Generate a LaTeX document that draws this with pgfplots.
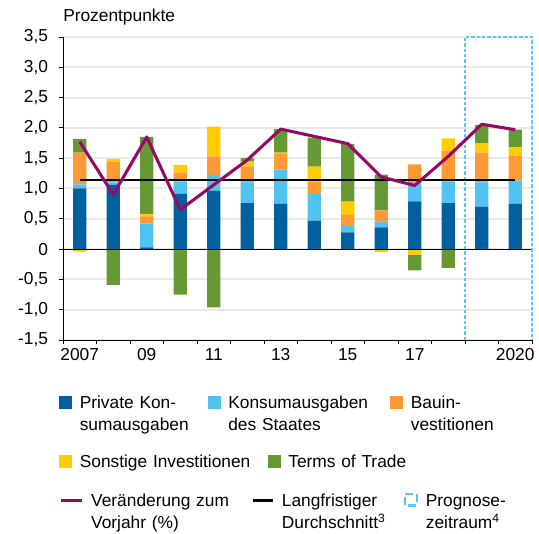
\documentclass[border=0pt]{standalone}
\usepackage{fontspec}
\setmainfont{Liberation Sans}
\usepackage{pgfplots}
\usepackage{pgfplotstable}
\pgfplotsset{compat=1.18}
\definecolor{cBlue}{RGB}{0,96,160}
\definecolor{cLight}{RGB}{80,195,240}
\definecolor{cOrange}{RGB}{255,153,51}
\definecolor{cYellow}{RGB}{255,204,0}
\definecolor{cGreen}{RGB}{102,153,51}
\definecolor{cPurple}{RGB}{150,10,100}
\definecolor{cGrid}{RGB}{234,234,234}
\definecolor{cBox}{RGB}{90,200,240}

\pgfplotstableread{
x blue light orange yellow green
0 1.00 0.07 0.52 0.00 0.23
1 1.06 0.04 0.345 0.045 0.00
2 0.03 0.39 0.12 0.04 1.27
3 0.91 0.205 0.145 0.13 0.00
4 0.96 0.265 0.305 0.49 0.00
5 0.76 0.34 0.26 0.085 0.055
6 0.75 0.56 0.27 0.01 0.39
7 0.47 0.44 0.205 0.245 0.48
8 0.275 0.11 0.18 0.22 0.95
9 0.357 0.10 0.18 0.00 0.59
10 0.786 0.30 0.31 0.00 0.00
11 0.76 0.355 0.51 0.20 0.00
12 0.70 0.40 0.49 0.16 0.30
13 0.75 0.38 0.41 0.14 0.29
}\tabpos

\pgfplotstableread{
x yellow green
0 -0.04 0
1 0 -0.59
2 0 0
3 0 -0.75
4 0 -0.96
5 0 0
6 0 0
7 0 0
8 0 0
9 -0.05 0
10 -0.093 -0.257
11 0 -0.31
12 0 0
13 0 0
}\tabneg

\pgfplotstableread{
x y
0 1.77
1 0.90
2 1.85
3 0.65
4 1.06
5 1.47
6 1.98
7 1.86
8 1.74
9 1.19
10 1.05
11 1.53
12 2.06
13 1.97
}\tabline

\pgfplotsset{
  base/.style={scale only axis, width=351.75pt, height=227.25pt,
    xmin=-0.5, xmax=13.5, ymin=-1.5, ymax=3.5, enlargelimits=false,
    at={(0,0)}, anchor=south west},
  leg/.style={base, hide axis, legend columns=3,
    legend style={draw=none, fill=none, inner sep=0pt, anchor=north west,
      font=\fontsize{13}{16.5}\selectfont,
      nodes={inner sep=0pt, align=left},
      cells={anchor=base west},
      /tikz/every odd column/.append style={column sep=6pt}}},
}

\begin{document}
\begin{tikzpicture}
\path[use as bounding box] (-47.25pt,-145.5pt) rectangle (357pt,255pt);

% main axis with positive contributions
\begin{axis}[base, ybar stacked, bar width=0.4,
  axis x line*=bottom, axis y line*=left,
  axis line style={line width=0.6pt, black},
  tick align=outside, major tick length=3pt,
  tick style={black, line width=0.6pt},
  xtick={-0.5,0.5,...,13.5}, xticklabels={},
  extra x ticks={0,2,4,6,8,10,13},
  extra x tick labels={2007,09,11,13,15,17,2020},
  extra x tick style={major tick length=0pt, grid=none},
  ytick={-1.5,-1,...,3.5},
  yticklabels={{-1,5},{-1,0},{-0,5},{0},{0,5},{1,0},{1,5},{2,0},{2,5},{3,0},{3,5}},
  ymajorgrids, grid style={cGrid, line width=1.5pt},
  tick label style={font=\fontsize{13}{15.6}\selectfont},
  yticklabel style={anchor=east, inner sep=0pt, xshift=-8pt},
  xticklabel style={anchor=north, inner sep=0pt, yshift=-6pt},
]
\addplot[fill=cBlue, draw=none] table[x=x, y=blue] {\tabpos};
\addplot[fill=cLight, draw=none] table[x=x, y=light] {\tabpos};
\addplot[fill=cOrange, draw=none] table[x=x, y=orange] {\tabpos};
\addplot[fill=cYellow, draw=none] table[x=x, y=yellow] {\tabpos};
\addplot[fill=cGreen, draw=none] table[x=x, y=green] {\tabpos};
\end{axis}

% negative contributions
\begin{axis}[base, hide axis, ybar stacked, bar width=0.4]
\addplot[fill=cYellow, draw=none] table[x=x, y=yellow] {\tabneg};
\addplot[fill=cGreen, draw=none] table[x=x, y=green] {\tabneg};
\end{axis}

% lines
\begin{axis}[base, hide axis, clip=false]
\addplot[black, line width=0.6pt] coordinates {(-0.5,0) (13.5,0)};
\addplot[cGrid, line width=1.5pt] coordinates {(13.5,-1.5) (13.5,3.5)};
\addplot[cBox, line width=0.9pt, dash pattern=on 2.5pt off 1.5pt] coordinates {(11.5,-1.5) (11.5,3.5) (13.5,3.5) (13.5,-1.5)};
\addplot[black, line width=2pt] coordinates {(0,1.14) (13,1.14)};
\addplot[cPurple, line width=2.3pt, line join=round] table[x=x, y=y] {\tabline};
\node[anchor=base west, inner sep=0pt, font=\fontsize{13}{15.6}\selectfont] at ([yshift=11.25pt]rel axis cs:0,1) {Prozentpunkte};
\end{axis}

% legend row 1
\begin{axis}[leg, legend style={at={(-0.0085,-0.1825)}}]
\addlegendimage{legend image code/.code={\fill[cBlue] (0pt,0pt) rectangle (9pt,9pt);}}
\addlegendentry[text width=96pt]{Private Kon-\\sumausgaben}
\addlegendimage{legend image code/.code={\fill[cLight] (0pt,0pt) rectangle (9pt,9pt);}}
\addlegendentry[text width=121.5pt]{Konsumausgaben\\des Staates}
\addlegendimage{legend image code/.code={\fill[cOrange] (0pt,0pt) rectangle (9pt,9pt);}}
\addlegendentry[text width=90pt]{Bauin-\\vestitionen}
\end{axis}

% legend row 2
\begin{axis}[leg, legend style={at={(-0.0085,-0.377)}}]
\addlegendimage{legend image code/.code={\fill[cYellow] (0pt,0pt) rectangle (9pt,9pt);}}
\addlegendentry[text width=141pt]{Sonstige Investitionen}
\addlegendimage{legend image code/.code={\fill[cGreen] (0pt,0pt) rectangle (9pt,9pt);}}
\addlegendentry[text width=100pt]{Terms of Trade}
\end{axis}

% legend row 3
\begin{axis}[leg, legend style={at={(-0.0085,-0.5026)}}]
\addlegendimage{legend image code/.code={\draw[cPurple, line width=2.2pt] (0pt,4.5pt) -- (15.75pt,4.5pt);}}
\addlegendentry[text width=120pt]{Veränderung zum\\Vorjahr (\%)}
\addlegendimage{legend image code/.code={\draw[black, line width=2pt] (0pt,4.5pt) -- (15pt,4.5pt);}}
\addlegendentry[text width=91.5pt]{Langfristiger\\Durchschnitt\textsuperscript{3}}
\addlegendimage{legend image code/.code={\draw[cBox, line width=1.6pt, dash pattern=on 6pt off 3pt] (0.8pt,0.8pt) rectangle (9.7pt,9.7pt);}}
\addlegendentry[text width=80pt]{Prognose-\\zeitraum\textsuperscript{4}}
\end{axis}
\end{tikzpicture}
\end{document}
